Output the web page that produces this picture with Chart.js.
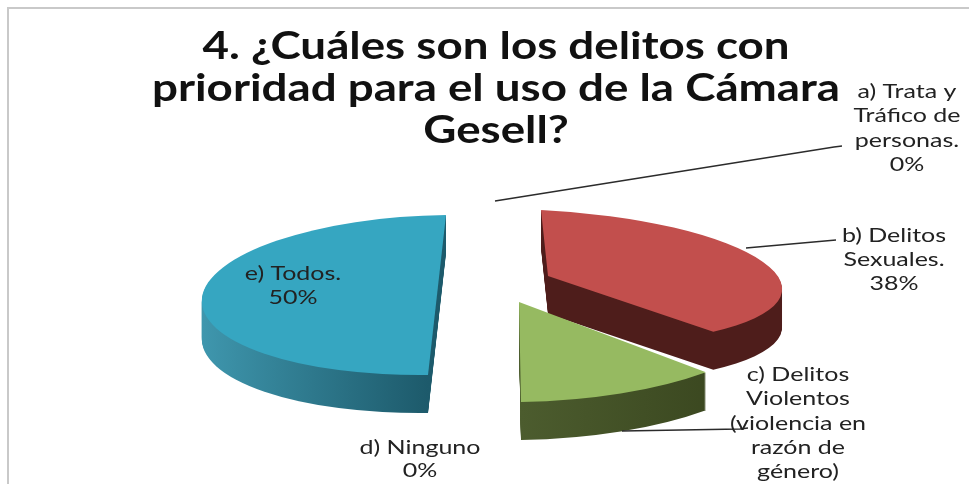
<!DOCTYPE html>
<html><head><meta charset="utf-8">
<style>html,body{margin:0;padding:0;background:#fff}canvas{display:block;filter:blur(0.5px)}</style>
<script src="https://cdn.jsdelivr.net/npm/chart.js@4"></script></head>
<body><canvas id="c" width="969" height="484"></canvas>
<script>
const titleLines = ["4. ¿Cuáles son los delitos con","prioridad para el uso de la Cámara","Gesell?"];
const categories = ["a) Trata y Tráfico de personas.","b) Delitos Sexuales.","c) Delitos Violentos (violencia en razón de género)","d) Ninguno","e) Todos."];
const values = [0,38,12,0,50];
const faceColors = ["#4f81bd","#c24f4d","#96ba61","#8064a2","#36a6c1"];
const wallLeft = ["#2c4a70","#4e1d1b","#4c5c2e","#4a3a60","#3f97ae"];
const wallRight = ["#2c4a70","#4e1d1b","#3b4820","#4a3a60","#1d5a6b"];
const labelLines = [["a) Trata y","Tráfico de","personas.","0%"],["b) Delitos","Sexuales.","38%"],["c) Delitos","Violentos","(violencia en","razón de","género)"],["d) Ninguno","0%"],["e) Todos.","50%"]];
const labelAnchor = [[907,92,24.3],[894,236,24],[798,375,24.2],[420,448,23],[293,274,24]];
const leaders = [[[495,201],[834,147],[842,146]],[[746,248],[836,240]],[[622,431],[740,429],[748,428]]];
// screen placement of each slice: apex, image of the radius along +x, image of the radius along +y
const sliceApex = {1:[548,276],2:[519,302],4:[437,295]};
const sliceAxisX = {1:[234,11],2:[271,-4],4:[235,-3]};
const sliceAxisY = {1:[7,66],2:[2,100],4:[-9,80]};
const drawOrder=[4,1,2];
const RADIUS=200, DEPTH=38;

function place(ctx,arc,i){
  const A=sliceApex[i],X=sliceAxisX[i],Y=sliceAxisY[i];
  ctx.transform(X[0]/RADIUS,X[1]/RADIUS,Y[0]/RADIUS,Y[1]/RADIUS,A[0],A[1]);
  ctx.translate(-arc.x,-arc.y);
}
function stretched(ctx,text,x,y,sx){
  ctx.save(); ctx.translate(x,y); ctx.scale(sx,1); ctx.fillText(text,0,0); ctx.restore();
}
const pie3d={
  id:'pie3d',
  beforeDatasetsDraw(chart){
    const ctx=chart.ctx, arcs=chart.getDatasetMeta(0).data;
    drawOrder.forEach(i=>{
      const arc=arcs[i], saved=arc.options;
      const g=ctx.createLinearGradient(arc.x-(i===4?RADIUS:0),0,arc.x+(i===4?0:RADIUS*0.7),0);
      g.addColorStop(0,wallLeft[i]); g.addColorStop(1,wallRight[i]);
      arc.options=Object.assign({},saved,{backgroundColor:g,borderWidth:0});
      for(let d=DEPTH;d>=1;d--){
        ctx.save(); ctx.translate(0,d); place(ctx,arc,i); arc.draw(ctx); ctx.restore();
      }
      arc.options=saved;
    });
    drawOrder.forEach(i=>{
      ctx.save(); place(ctx,arcs[i],i); arcs[i].draw(ctx); ctx.restore();
    });
    return false;
  },
  afterDraw(chart){
    const ctx=chart.ctx;
    ctx.save();
    ctx.strokeStyle='#c9c9c9'; ctx.lineWidth=2;
    ctx.beginPath(); ctx.moveTo(8,484); ctx.lineTo(8,8); ctx.lineTo(969,8); ctx.stroke();
    ctx.strokeStyle='#2b2b2b'; ctx.lineWidth=1.3;
    leaders.forEach(l=>{ctx.beginPath();l.forEach((p,i)=>i?ctx.lineTo(p[0],p[1]):ctx.moveTo(p[0],p[1]));ctx.stroke();});
    ctx.textAlign='center'; ctx.textBaseline='middle';
    ctx.fillStyle='#111'; ctx.font='bold 38px Lato';
    const ts=688/ctx.measureText(titleLines[1]).width;
    titleLines.forEach((t,j)=>stretched(ctx,t,496,47+j*42,ts));
    ctx.fillStyle='#222'; ctx.font='19px Lato';
    const ls=121/ctx.measureText("d) Ninguno").width;
    labelLines.forEach((lines,i)=>{
      const [x,y,h]=labelAnchor[i];
      lines.forEach((t,j)=>stretched(ctx,t,x,y+j*h,ls));
    });
    ctx.restore();
  }
};
new Chart(document.getElementById('c'),{
  type:'pie',
  data:{labels:categories,datasets:[{data:values,backgroundColor:faceColors,borderWidth:0}]},
  options:{
    responsive:false,animation:false,rotation:0,radius:RADIUS,
    plugins:{legend:{display:false},tooltip:{enabled:false},title:{display:false}}
  },
  plugins:[pie3d]
});
</script></body></html>
